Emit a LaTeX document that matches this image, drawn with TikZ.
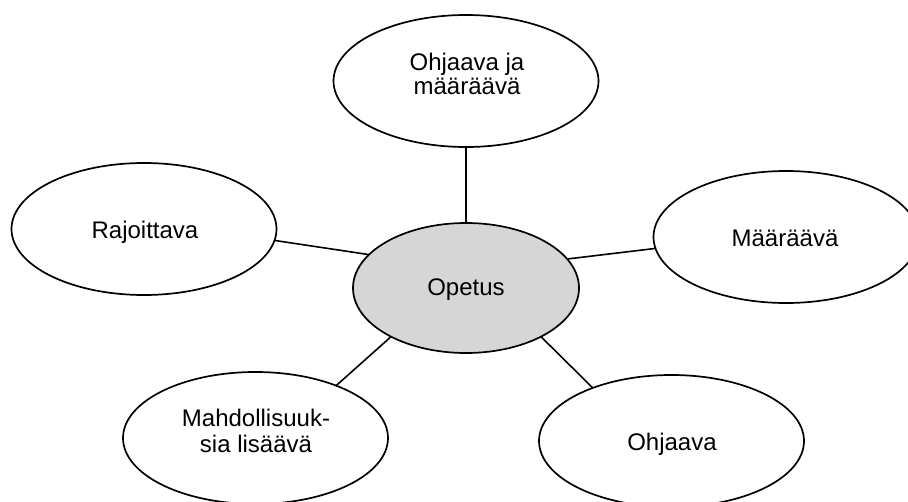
\documentclass[tikz,border=0pt]{standalone}
\usepackage{fontspec}
\setmainfont{Liberation Sans}
\usetikzlibrary{shapes.geometric}
\begin{document}
\begin{tikzpicture}[x=1pt,y=-1pt,
  ell/.style={draw=black,line width=1.7pt,ellipse,inner sep=0pt,outer sep=0pt,
    minimum width=265pt,minimum height=132pt,fill=white},
  mid/.style={ell,minimum width=226pt,minimum height=130pt,fill=black!16},
  txt/.style={font=\fontsize{24}{23.5}\selectfont,align=center,inner sep=0pt},
  link/.style={line width=1.6pt}]
\useasboundingbox (0,0) rectangle (908,501);
\node[mid] (C) at (466,288) {};
\node[ell] (T) at (466,81) {};
\node[ell] (L) at (144,229) {};
\node[ell] (R) at (786,237) {};
\node[ell] (BL) at (255.5,438) {};
\node[ell] (BR) at (671.5,441) {};
\node[txt] (Ct) at (466,290) {Opetus};
\node[txt] (Tt) at (467,74) {Ohjaava ja\\määräävä};
\node[txt] (Lt) at (145,232) {Rajoittava};
\node[txt] (Rt) at (785,238) {Määräävä};
\node[txt,font=\fontsize{24}{26}\selectfont] (BLt) at (256,431) {Mahdollisuuk-\\sia lisäävä};
\node[txt] (BRt) at (672,444) {Ohjaava};
\draw[link] (T.south) -- (C.north);
\draw[link] (L.-5.6) -- (C.161.6);
\draw[link] (R.-175.6) -- (C.16.9);
\draw[link] (BL.33.4) -- (C.-147.7);
\draw[link] (BR.146.6) -- (C.-33.3);
\end{tikzpicture}
\end{document}
